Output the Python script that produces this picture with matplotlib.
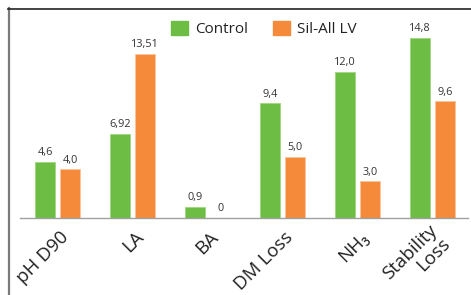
"""
Grouped bar chart: Control vs Sil-All LV
"""
import matplotlib.pyplot as plt
import matplotlib.transforms as mtransforms
from matplotlib.lines import Line2D
from matplotlib.patches import Patch
import numpy as np

plt.rcParams['font.family'] = ['Open Sans', 'DejaVu Sans']

categories = ['pH D90', 'LA', 'BA', 'DM Loss', 'NH\u2083', 'Stability\nLoss']
control = [4.6, 6.92, 0.9, 9.4, 12.0, 14.8]
sil_all = [4.0, 13.51, 0.0, 5.0, 3.0, 9.6]
control_labels = ['4,6', '6,92', '0,9', '9,4', '12,0', '14,8']
sil_labels = ['4,0', '13,51', '0', '5,0', '3,0', '9,6']
series_names = ['Control', 'Sil-All LV']

GREEN = '#6DBD45'
ORANGE = '#F58A3A'


def create_chart():
    W, H = 471, 295
    fig = plt.figure(figsize=(W / 100, H / 100), dpi=100)

    # outer frame (left + top edges visible)
    fig.add_artist(Line2D([8.5 / W, 8.5 / W], [0, 1 - 8 / H],
                          transform=fig.transFigure, color='#7a7a7a', lw=1.6))
    fig.add_artist(Line2D([8 / W, 1], [1 - 8.5 / H, 1 - 8.5 / H],
                          transform=fig.transFigure, color='#222222', lw=1.2))

    base = 217.7
    ax = fig.add_axes([20 / W, (H - base) / H, 448 / W, (base - 10) / H])

    x = np.arange(len(categories))
    w = 0.267
    off = 0.167
    b1 = ax.bar(x - off, control, w, color=GREEN, edgecolor='#9fd77f', linewidth=0.6)
    b2 = ax.bar(x + off, sil_all, w, color=ORANGE, edgecolor='#fbc49a', linewidth=0.6)

    for bars, labels in ((b1, control_labels), (b2, sil_labels)):
        for rect, lab in zip(bars, labels):
            ax.annotate(lab, (rect.get_x() + rect.get_width() / 2, rect.get_height()),
                        xytext=(0, 2.5), textcoords='offset points',
                        ha='center', va='bottom', fontsize=7.8, color='#333333')

    ax.set_xlim(-0.5, 5.47)
    ax.set_ylim(0, (base - 10) / 12.15)

    for s in ('left', 'right', 'top'):
        ax.spines[s].set_visible(False)
    ax.spines['bottom'].set_color('#a0a0a0')
    ax.spines['bottom'].set_linewidth(1.0)
    ax.set_yticks([])
    ax.set_xticks(x)
    ax.set_xticklabels(categories, rotation=45, ha='right', va='center',
                       rotation_mode='anchor', fontsize=13.5, color='#222222',
                       multialignment='right')
    ax.tick_params(axis='x', length=0, pad=12)
    shift = mtransforms.ScaledTranslation(0.08, 0.0, fig.dpi_scale_trans)
    for lab in ax.get_xticklabels():
        lab.set_linespacing(1.0)
        lab.set_transform(lab.get_transform() + shift)

    handles = [Patch(color=GREEN), Patch(color=ORANGE)]
    fig.legend(handles, series_names, loc='center', bbox_to_anchor=(264 / W, 1 - 29 / H),
               ncol=2, frameon=False, fontsize=11, handlelength=1.1, handleheight=1.1,
               handletextpad=0.5, columnspacing=1.6, labelcolor='#222222')

    fig.savefig('out.png', dpi=100, facecolor='white')
    plt.close(fig)


if __name__ == "__main__":
    create_chart()
